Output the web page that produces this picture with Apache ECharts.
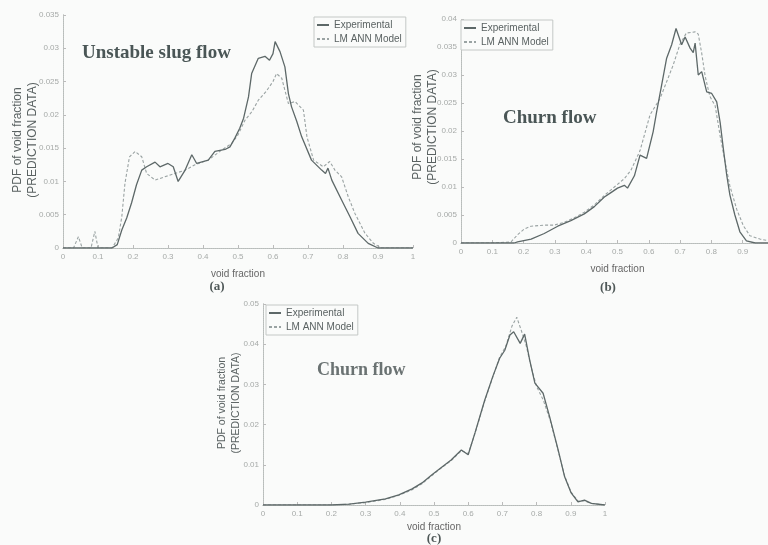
<!DOCTYPE html>
<html><head><meta charset="utf-8">
<script src="https://cdn.jsdelivr.net/npm/echarts@6/dist/echarts.min.js"></script>
<style>html,body{margin:0;padding:0;background:#fafbfa}#c{width:768px;height:545px}</style>
</head><body><div id="c"></div>
<script>
// Panel (a) Unstable slug flow
const aExpX = [0,0.1,0.14,0.155,0.168,0.182,0.196,0.21,0.225,0.239,0.263,0.277,0.3,0.315,0.329,0.349,0.368,0.382,0.415,0.434,0.463,0.477,0.491,0.505,0.516,0.53,0.539,0.558,0.577,0.59,0.6,0.606,0.62,0.634,0.644,0.653,0.668,0.682,0.71,0.739,0.75,0.757,0.768,0.796,0.82,0.843,0.872,0.9,1.0];
const aExpY = [0,0,0,0.0005,0.0027,0.0045,0.0068,0.0095,0.0117,0.0122,0.0129,0.0122,0.0127,0.0122,0.01,0.0117,0.014,0.0127,0.0132,0.0145,0.0148,0.0152,0.0165,0.018,0.0195,0.0227,0.0262,0.0285,0.0288,0.0282,0.0292,0.031,0.0295,0.0272,0.0232,0.0212,0.019,0.0167,0.0132,0.0117,0.0112,0.012,0.0102,0.0072,0.0047,0.0022,0.0007,0,0];
const aModX = [0,0.03,0.044,0.055,0.08,0.091,0.1,0.14,0.158,0.168,0.177,0.19,0.206,0.225,0.239,0.263,0.291,0.32,0.349,0.377,0.415,0.453,0.482,0.5,0.52,0.54,0.558,0.58,0.6,0.61,0.625,0.644,0.663,0.687,0.697,0.716,0.744,0.762,0.777,0.796,0.815,0.834,0.863,0.887,0.91,1.0];
const aModY = [0,0,0.0017,0,0,0.0025,0,0,0.0015,0.0047,0.0097,0.0137,0.0145,0.0137,0.0112,0.0102,0.0107,0.0112,0.0117,0.0125,0.0132,0.0147,0.0157,0.017,0.0192,0.0205,0.0222,0.0235,0.025,0.0262,0.0255,0.0217,0.022,0.0207,0.0167,0.0132,0.0122,0.013,0.0117,0.0107,0.0077,0.0052,0.0022,0.0007,0,0];
// Panel (b) Churn flow
const bExpX = [0,0.17,0.181,0.224,0.266,0.309,0.351,0.394,0.426,0.458,0.479,0.5,0.522,0.532,0.554,0.572,0.593,0.614,0.625,0.641,0.657,0.673,0.687,0.705,0.716,0.732,0.742,0.748,0.758,0.769,0.785,0.801,0.817,0.828,0.838,0.849,0.859,0.875,0.891,0.912,0.94,1.0];
const bExpY = [0,0,0.0002,0.0007,0.0017,0.003,0.004,0.0052,0.0065,0.0082,0.009,0.0098,0.0103,0.0098,0.012,0.0157,0.0151,0.0199,0.0234,0.0282,0.033,0.0354,0.0383,0.0354,0.0368,0.0348,0.034,0.0357,0.030,0.0306,0.027,0.0267,0.0252,0.0215,0.0169,0.0121,0.0086,0.005,0.002,0.0004,0,0];
const bModX = [0,0.1,0.16,0.181,0.202,0.224,0.266,0.298,0.33,0.362,0.394,0.426,0.458,0.49,0.522,0.543,0.572,0.604,0.636,0.657,0.678,0.699,0.72,0.748,0.758,0.769,0.78,0.795,0.812,0.828,0.844,0.859,0.881,0.902,0.923,0.955,1.0];
const bModY = [0,0,0.0002,0.0015,0.0025,0.003,0.0032,0.0032,0.0037,0.0045,0.0055,0.0068,0.0085,0.01,0.0115,0.013,0.0165,0.0229,0.0258,0.0288,0.0318,0.0354,0.0375,0.0377,0.0373,0.0339,0.0298,0.0262,0.0245,0.0191,0.0144,0.0102,0.006,0.0031,0.0013,0.0007,0.0002];
// Panel (c) Churn flow
const cExpX = [0,0.2,0.252,0.3,0.358,0.397,0.436,0.465,0.494,0.512,0.55,0.58,0.6,0.62,0.648,0.672,0.692,0.707,0.722,0.733,0.752,0.765,0.78,0.795,0.819,0.838,0.863,0.882,0.901,0.921,0.94,0.96,1.0];
const cExpY = [0,0,0.0002,0.0007,0.0015,0.0025,0.004,0.0055,0.0075,0.0087,0.0112,0.0137,0.0125,0.018,0.026,0.032,0.0365,0.0385,0.0423,0.0431,0.0402,0.0425,0.036,0.0303,0.0278,0.022,0.0137,0.007,0.003,0.0008,0.0012,0.0004,0];
const cModX = [0,0.2,0.25,0.3,0.358,0.397,0.436,0.465,0.494,0.512,0.55,0.58,0.6,0.62,0.648,0.672,0.692,0.71,0.728,0.742,0.755,0.77,0.785,0.8,0.82,0.84,0.863,0.882,0.901,0.921,0.94,0.96,1.0];
const cModY = [0,0,0.0002,0.0006,0.0014,0.0024,0.0038,0.0053,0.0073,0.0086,0.011,0.0135,0.0128,0.0178,0.0258,0.0318,0.0368,0.0395,0.0445,0.0467,0.0435,0.0395,0.034,0.0295,0.026,0.021,0.0135,0.0072,0.0032,0.001,0.001,0.0004,0];

const seriesNames = ['Experimental', 'LM ANN Model'];
const panelTitles = ['Unstable slug flow', 'Churn flow', 'Churn flow'];
const panelLabels = ['(a)', '(b)', '(c)'];
const yMax = [0.035, 0.04, 0.05];
const yStep = [0.005, 0.005, 0.01];

const zip = (xs, ys) => xs.map((x, i) => [x, ys[i]]);
const grids = [
  {left: 63, top: 15, width: 350, height: 233, containLabel: false, outerBoundsMode: 'none'},
  {left: 461, top: 19, width: 313, height: 224, containLabel: false, outerBoundsMode: 'none'},
  {left: 263, top: 304, width: 342, height: 201, containLabel: false, outerBoundsMode: 'none'}
];
const tickFont = {fontSize: 8, color: '#a6aaa8', fontFamily: 'Liberation Sans'};
const axLine = {show: true, lineStyle: {color: '#b8bcba', type: 'dotted', width: 1}};
const xAxes = [], yAxes = [];
grids.forEach((g, i) => {
  xAxes.push({gridIndex: i, type: 'value', min: 0, max: 1, interval: 0.1,
    name: 'void fraction', nameLocation: 'middle', nameGap: i === 2 ? 17 : 21,
    nameTextStyle: {fontSize: 10, color: '#666', fontFamily: 'Liberation Sans'},
    axisLine: axLine, axisTick: {inside: true, length: 3, lineStyle: {color: '#bbb'}},
    axisLabel: Object.assign({margin: 5}, tickFont), splitLine: {show: false}});
  xAxes.push({gridIndex: i, type: 'value', position: 'top', min: 0, max: 1,
    axisLine: axLine, axisTick: {show: false}, axisLabel: {show: false}, splitLine: {show: false}});
  yAxes.push({gridIndex: i, type: 'value', min: 0, max: yMax[i], interval: yStep[i],
    axisLine: axLine, axisTick: {inside: true, length: 3, lineStyle: {color: '#bbb'}},
    axisLabel: Object.assign({margin: 4}, tickFont), splitLine: {show: false}});
  yAxes.push({gridIndex: i, type: 'value', position: 'right', min: 0, max: yMax[i],
    axisLine: axLine, axisTick: {show: false}, axisLabel: {show: false}, splitLine: {show: false}});
});
const expStyle = {color: '#5d6868', width: 1.3, type: 'solid'};
const modStyle = {color: '#9aa3a3', width: 1.1, type: [3, 2]};
const panelData = [[aExpX, aExpY, aModX, aModY], [bExpX, bExpY, bModX, bModY], [cExpX, cExpY, cModX, cModY]];
const series = [];
panelData.forEach((d, i) => {
  series.push({name: seriesNames[0], type: 'line', xAxisIndex: 2*i, yAxisIndex: 2*i, data: zip(d[0], d[1]),
    symbol: 'none', lineStyle: expStyle, itemStyle: {color: expStyle.color}, z: 3});
  series.push({name: seriesNames[1], type: 'line', xAxisIndex: 2*i, yAxisIndex: 2*i, data: zip(d[2], d[3]),
    symbol: 'none', lineStyle: modStyle, itemStyle: {color: modStyle.color}, z: 2});
});
const legendPos = [{left: 314, top: 17}, {left: 461, top: 20}, {left: 266, top: 305}];
const legends = legendPos.map(p => ({
  data: seriesNames, orient: 'vertical', left: p.left, top: p.top, itemGap: 4,
  itemWidth: 12, itemHeight: 8, padding: [3, 4, 3, 2],
  itemStyle: {opacity: 0},
  borderColor: '#c4c8c6', borderWidth: 1, backgroundColor: '#fafbfa',
  textStyle: {fontSize: 10, color: '#5a6262', fontFamily: 'Liberation Sans'}
}));
const ylab = (x, y, size) => ({type: 'text', x: x, y: y, rotation: Math.PI / 2,
  style: {text: 'PDF of void fraction\n(PREDICTION DATA)', fontSize: size, lineHeight: size + 3,
    fill: '#5a6262', fontFamily: 'Liberation Sans', textAlign: 'center', textVerticalAlign: 'middle'}});
const title = (x, y, t, col, size) => ({type: 'text', x: x, y: y,
  style: {text: t, fontSize: size, fontWeight: 'bold', fill: col, fontFamily: 'Liberation Serif', textVerticalAlign: 'middle'}});
const lab = (x, y, t) => ({type: 'text', x: x, y: y,
  style: {text: t, fontSize: 13, fontWeight: 'bold', fill: '#4f5858', fontFamily: 'Liberation Serif', textAlign: 'center', textVerticalAlign: 'middle'}});
const chart = echarts.init(document.getElementById('c'));
chart.setOption({
  backgroundColor: '#fafbfa',
  animation: false,
  grid: grids,
  xAxis: xAxes, yAxis: yAxes, series: series, legend: legends,
  graphic: [
    ylab(25, 140, 12), ylab(425, 127, 12), ylab(229, 403, 10.5),
    title(82, 53, panelTitles[0], '#4a5656', 19),
    title(503, 118, panelTitles[1], '#4a5656', 19),
    title(317, 370, panelTitles[2], '#6a7272', 18),
    lab(217, 287, panelLabels[0]), lab(608, 288, panelLabels[1]), lab(434, 539, panelLabels[2])
  ]
});
</script></body></html>
